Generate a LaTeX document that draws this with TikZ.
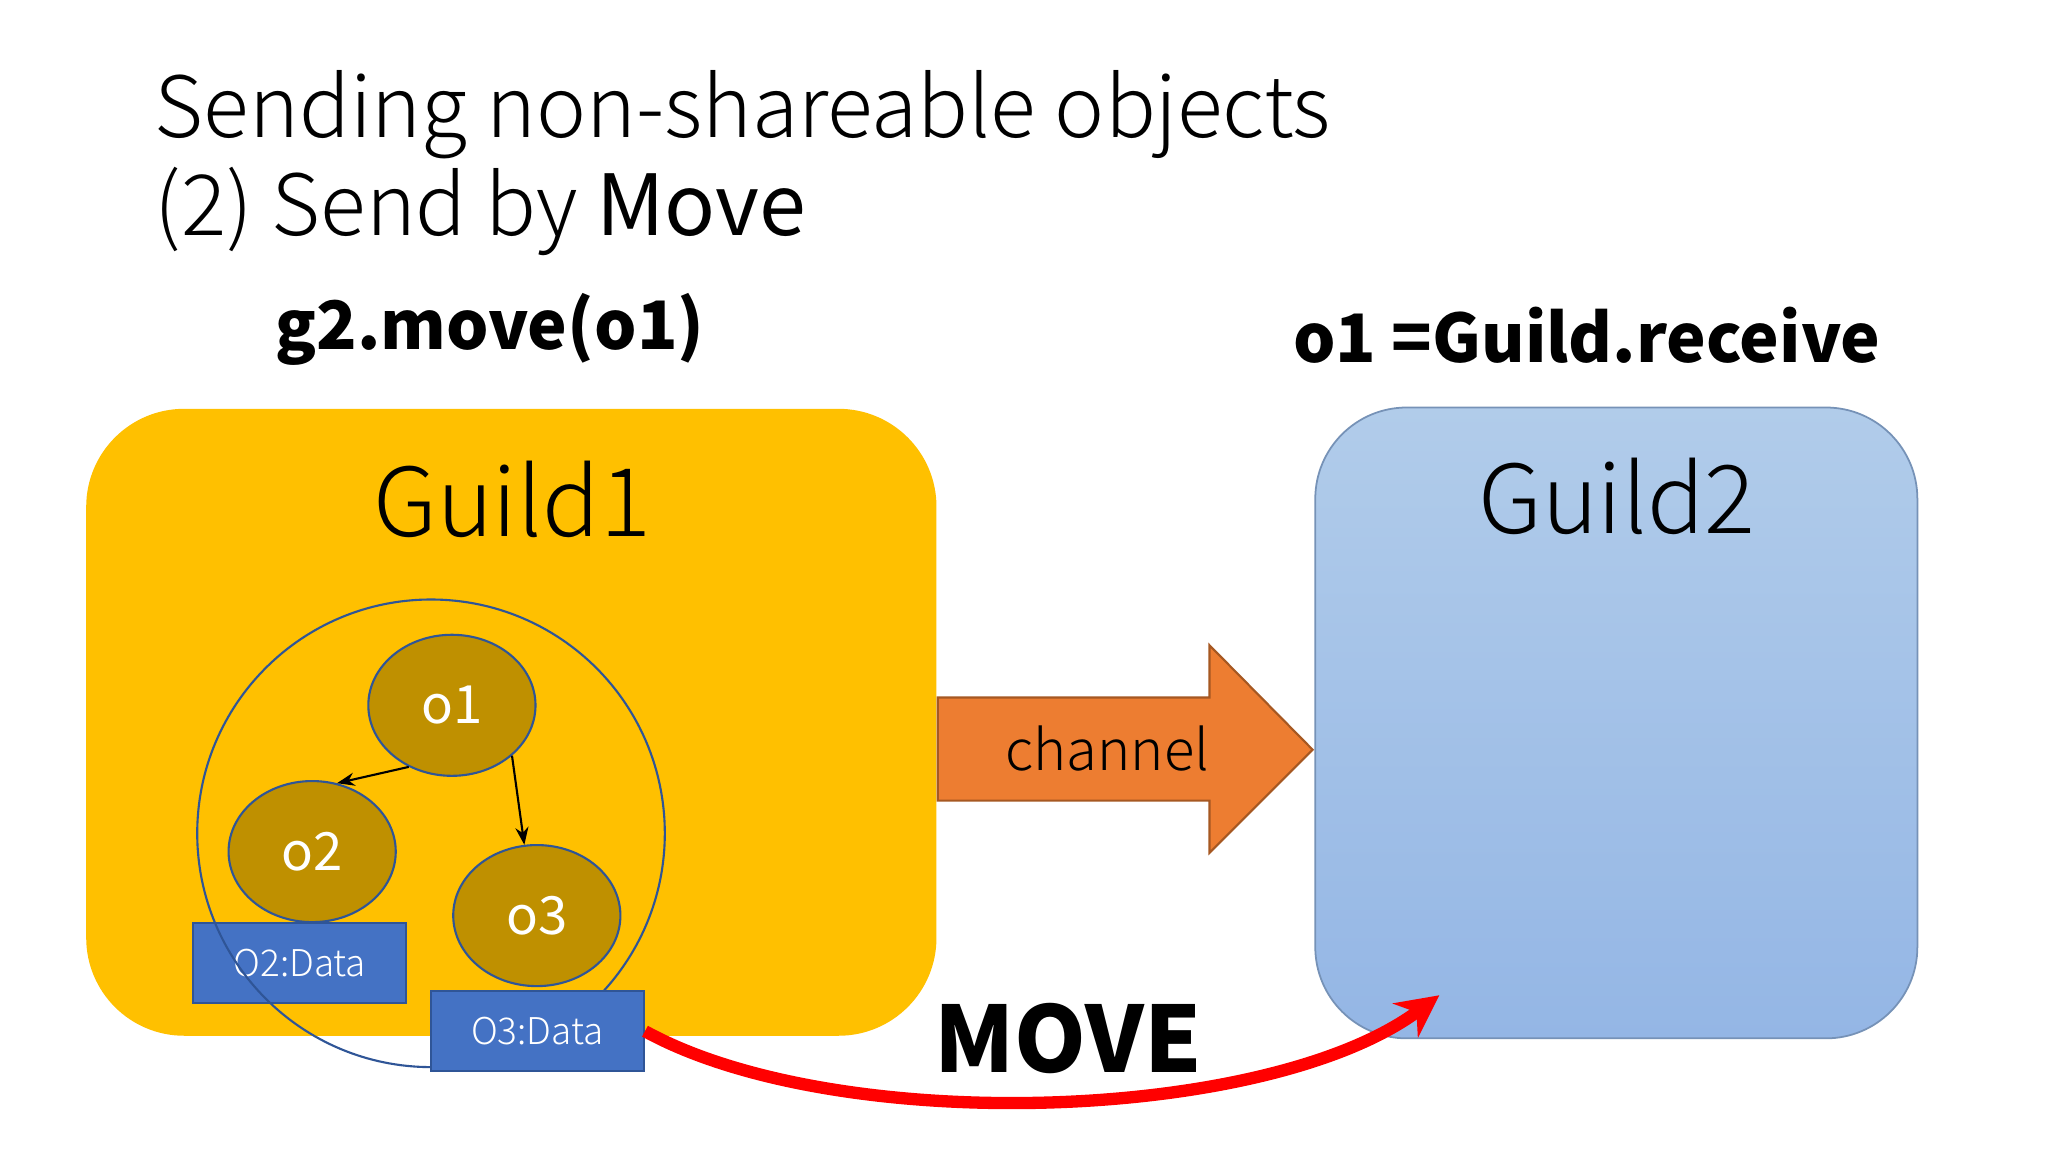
\documentclass[tikz,border=0pt]{standalone}
\usepackage{fontspec}
\setmainfont{Noto Sans CJK JP}
\newfontfamily\lightf{Noto Sans CJK JP Light}
\usetikzlibrary{shapes.geometric,arrows.meta}
\definecolor{gone}{HTML}{FFC000}
\definecolor{gtopc}{HTML}{B1CCEA}
\definecolor{gbotc}{HTML}{94B6E5}
\definecolor{objc}{HTML}{BF9000}
\definecolor{datac}{HTML}{4472C4}
\definecolor{chc}{HTML}{ED7D31}
\definecolor{lnc}{HTML}{2F5597}
\tikzset{
 obj/.style={ellipse,fill=objc,draw=lnc,line width=0.6pt,minimum width=128*0.01306cm,minimum height=108*0.01306cm,text=white,font=\fontsize{15}{15}\selectfont},
 databox/.style={rectangle,fill=datac,draw=lnc,line width=0.6pt,minimum width=163*0.01306cm,minimum height=61*0.01306cm,text=white,font=\lightf\fontsize{10.5}{10.5}\selectfont,inner sep=0pt},
 thin arrow/.style={-{Stealth[length=5pt]},black,line width=0.6pt},
}
\begin{document}
\begin{tikzpicture}[x=0.01306cm,y=-0.01306cm]
\useasboundingbox (0,0) rectangle (1568,882);
\fill[white] (0,0) rectangle (1568,882);
% title
\node[anchor=west,inner sep=0pt,align=left,font=\lightf\fontsize{24}{28}\selectfont] (title) at (118,125) {Sending non-shareable objects\\(2) Send by {\normalfont\fontsize{24}{28}\selectfont Move}};
\node[font=\bfseries\fontsize{19}{19}\selectfont,inner sep=0pt] (g2) at (375,252) {g2.move(o1)};
\node[font=\bfseries\fontsize{19}{19}\selectfont,inner sep=0pt] (rcv) at (1215,257) {o1 =Guild.receive};
% guilds
\node[rectangle,rounded corners=75*0.01306cm,fill=gone,minimum width=651*0.01306cm,minimum height=480*0.01306cm] (guild1) at (391.5,553) {};
\node[rectangle,rounded corners=70*0.01306cm,top color=gtopc,bottom color=gbotc,draw=gbotc!80!black,line width=0.5pt,minimum width=461*0.01306cm,minimum height=483*0.01306cm] (guild2) at (1237.5,553.5) {};
\node[font=\lightf\fontsize{27}{27}\selectfont] (l1) at (392,382) {Guild1};
\node[font=\lightf\fontsize{27}{27}\selectfont] (l2) at (1238,380) {Guild2};
% channel
\draw[fill=chc,draw=chc!70!black,line width=0.6pt] (718,534) -- (926,534) -- (926,494) -- (1005,574) -- (926,653) -- (926,613) -- (718,613) -- cycle;
\node[font=\lightf\fontsize{16}{16}\selectfont] (chl) at (848,573) {channel};
% objects
\node[databox] (d2) at (229.5,737.5) {O2:Data};
\draw[lnc,line width=0.6pt] (330,638) circle (179);
\node[obj] (o1) at (346,540) {o1};
\node[obj] (o2) at (239,652) {o2};
\node[obj] (o3) at (411,701) {o3};
\draw[thin arrow] (o1.235) -- (o2.70);
\draw[thin arrow] (o1.-40) -- (o3.100);
\node[databox] (d3) at (411.5,789.5) {O3:Data};
% move
\coordinate (mvend) at (1102,762);
\draw[red,line width=3.5pt,-{Stealth[length=12pt,width=12pt]}] (d3.east) .. controls (640,870) and (970,860) .. (mvend);
\node[font=\bfseries\fontsize{26}{26}\selectfont] (mv) at (818,795) {MOVE};
\end{tikzpicture}
\end{document}
